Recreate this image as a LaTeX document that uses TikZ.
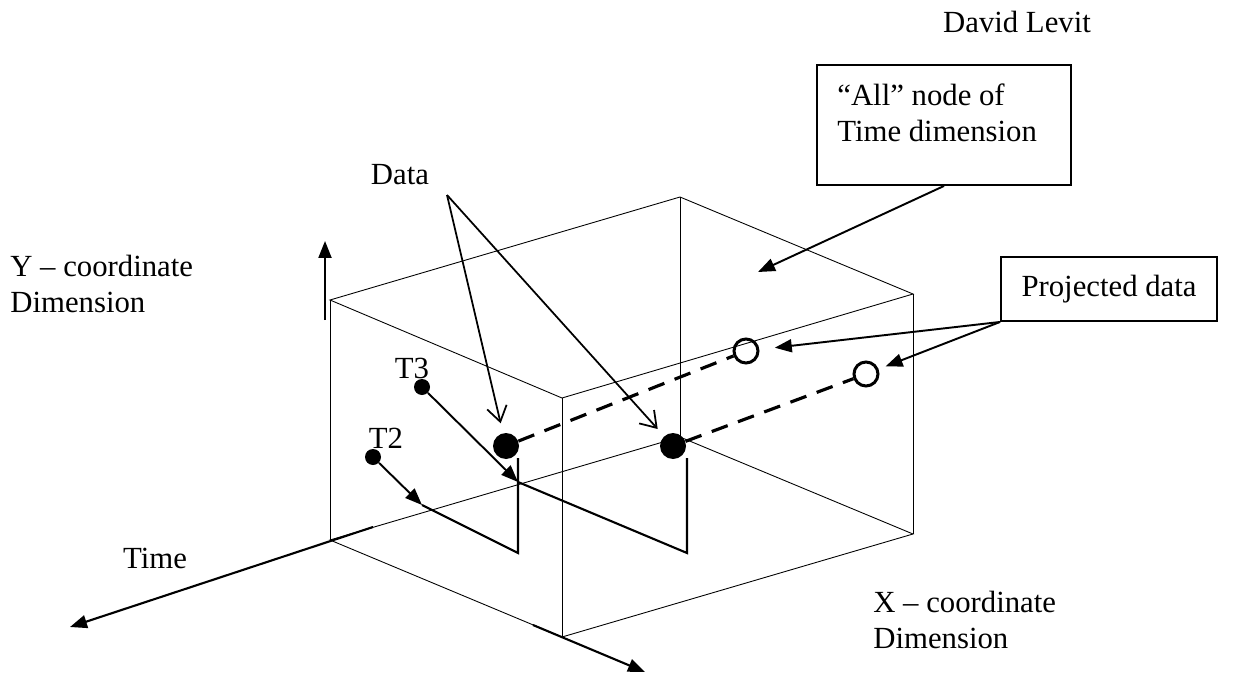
\documentclass[tikz,border=0pt]{standalone}
\usepackage{fontspec}
\setmainfont{Liberation Serif}
\usetikzlibrary{arrows.meta}

\begin{document}
\begin{tikzpicture}[x=0.02cm, y=-0.02cm,
  font=\fontsize{17.5}{21}\selectfont,
  edge/.style={line width=0.5pt},
  axis/.style={line width=1.2pt, -{Triangle[length=3.4mm, width=2.6mm]}},
  pointer/.style={line width=1.1pt, -{Triangle[length=3.4mm, width=2.6mm]}},
  barb/.style={line width=1pt, -{Straight Barb[length=3mm, width=4mm]}},
  trail/.style={line width=1.2pt},
  proj/.style={line width=1.8pt, dash pattern=on 0.34cm off 0.22cm},
  bigdot/.style={circle, fill, inner sep=0pt, minimum size=0.52cm},
  smalldot/.style={circle, fill, inner sep=0pt, minimum size=0.32cm},
  ghost/.style={circle, draw, line width=1.7pt, inner sep=0pt, minimum size=0.48cm},
  box/.style={draw, line width=1.1pt, inner sep=0pt}]

\useasboundingbox (0,0) rectangle (1244,676);

% cube corners
\coordinate (TLF) at (330,300);
\coordinate (TB)  at (680,197);
\coordinate (TR)  at (913,294);
\coordinate (TF)  at (562,398);
\coordinate (BLF) at (330,540);
\coordinate (BB)  at (680,437);
\coordinate (BR)  at (913,534);
\coordinate (BF)  at (562,637);

\draw[edge] (TLF) -- (TB) -- (TR) -- (TF) -- cycle;
\draw[edge] (BLF) -- (BB) -- (BR) -- (BF) -- cycle;
\draw[edge] (TLF) -- (BLF) (TB) -- (BB) (TR) -- (BR) (TF) -- (BF);

% axes
\coordinate (yfoot) at (325,320);
\coordinate (ytip)  at (325,241);
\coordinate (tfoot) at (373,527);
\coordinate (ttip)  at (70,627);
\coordinate (xfoot) at (533,625);
\coordinate (xtip)  at (645,672);
\draw[axis] (yfoot) -- (ytip);
\draw[axis] (tfoot) -- (ttip);
\draw[axis] (xfoot) -- (xtip);

\node[anchor=west, align=left, inner sep=0pt] (ylab) at (10,284) {Y – coordinate\\Dimension};
\node[inner sep=0pt] (timelab) at (155,558) {Time};
\node[anchor=west, align=left, inner sep=0pt] (xlab) at (873,620) {X – coordinate\\Dimension};
\node[inner sep=0pt] (author) at (1017,22) {David Levit};

% data points and projections
\node[bigdot] (d1) at (506,446) {};
\node[bigdot] (d2) at (673,446) {};
\node[ghost] (p1) at (746,351) {};
\node[ghost] (p2) at (866,374) {};
\draw[proj] (d1) -- (p1);
\draw[proj] (d2) -- (p2);

\node[inner sep=0pt] (datalab) at (400,175) {Data};
\coordinate (datafoot) at (447,195);
\draw[barb, shorten >=0.2cm] (datafoot) -- (d1);
\draw[barb, shorten >=0.19cm] (datafoot) -- (d2);

% time steps
\node[smalldot] (t3) at (422,387) {};
\node[smalldot] (t2) at (373,457) {};
\node[inner sep=0pt] (t3lab) at (412,368) {T3};
\node[inner sep=0pt] (t2lab) at (386,438) {T2};

\coordinate (t3hit) at (518,482);
\coordinate (t3low) at (687,553);
\coordinate (t3up)  at (687,458);
\coordinate (t2hit) at (422,505);
\coordinate (t2low) at (518,553);
\coordinate (t2up)  at (518,458);
\draw[pointer] (t3) -- (t3hit);
\draw[trail] (t3hit) -- (t3low) -- (t3up);
\draw[pointer] (t2) -- (t2hit);
\draw[trail] (t2hit) -- (t2low) -- (t2up);

% callouts
\node[box, minimum width=5.08cm, minimum height=2.4cm] (allbox) at (944,125) {};
\node[anchor=north west, align=left, inner sep=0pt] (alltext) at (837,83) {“All” node of\\Time dimension};
\coordinate (allhit) at (758,272);
\draw[pointer] (allbox.south) -- (allhit);

\node[box, minimum width=4.32cm, minimum height=1.28cm] (projbox) at (1109,289) {Projected data};
\draw[pointer, shorten >=0.31cm] (projbox.south west) -- (p1);
\draw[pointer, shorten >=0.15cm] (projbox.south west) -- (p2);
\end{tikzpicture}
\end{document}
